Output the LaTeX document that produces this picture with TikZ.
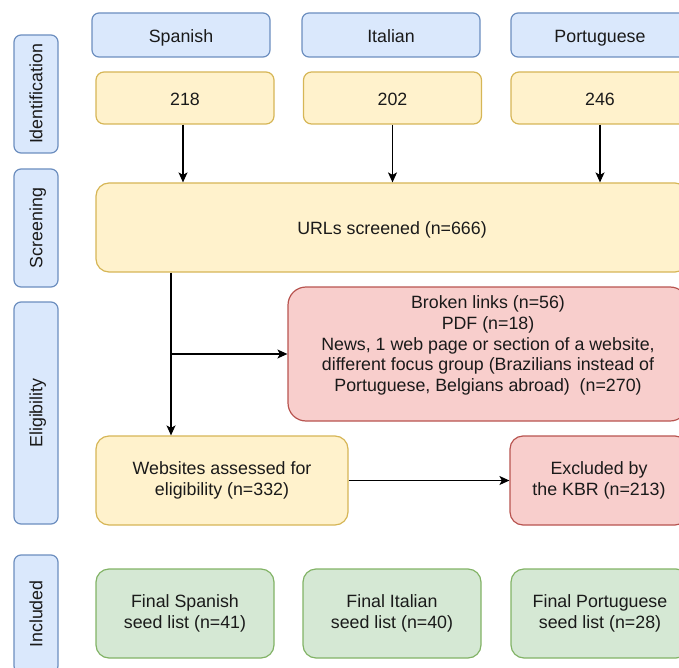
\documentclass[tikz,border=0pt]{standalone}
\usepackage{fontspec}
\setmainfont{Liberation Sans}
\usetikzlibrary{arrows.meta}
\definecolor{bluef}{HTML}{DAE8FC}\definecolor{bluel}{HTML}{6C8EBF}
\definecolor{orgf}{HTML}{FFF2CC}\definecolor{orgl}{HTML}{D6B656}
\definecolor{redf}{HTML}{F8CECC}\definecolor{redl}{HTML}{B85450}
\definecolor{grnf}{HTML}{D5E8D4}\definecolor{grnl}{HTML}{82B366}
\definecolor{txt}{HTML}{1A1A1A}
\begin{document}
\begin{tikzpicture}[x=1pt,y=-1pt,
  box/.style={rectangle, rounded corners=#1, draw, line width=1.2pt, align=center,
    inner sep=0pt, font=\fontsize{17.8}{20.8}\selectfont, text=txt},
  box/.default=7pt,
  oneline/.style={text height=16.5pt, text depth=2pt},
  phaseline/.style={text height=16pt, text depth=3.2pt},
  phase/.style={box=7pt, phaseline, fill=bluef, draw=bluel, rotate=90, minimum height=44pt},
  lang/.style={box=7pt, oneline, fill=bluef, draw=bluel, minimum width=178pt, minimum height=44pt},
  cnt/.style={box=8pt, oneline, fill=orgf, draw=orgl, minimum width=178pt, minimum height=52pt},
  orgbox/.style={box=13pt, fill=orgf, draw=orgl},
  redbox/.style={box=#1, fill=redf, draw=redl},
  redbox/.default=13pt,
  grnbox/.style={box=13pt, fill=grnf, draw=grnl, minimum width=178pt, minimum height=89pt},
  arr/.style={draw=black, line width=1.2pt, -{Stealth[length=10pt,width=9pt,inset=2.5pt]}}
]
\clip (0,0) rectangle (679,668);
\useasboundingbox (0,0) rectangle (679,668);

% phase labels
\node[phase, minimum width=118pt] (pid) at (36,94) {Identification};
\node[phase, minimum width=118pt] (psc) at (36,228) {Screening};
\node[phase, minimum width=222pt] (pel) at (36,413) {Eligibility};
\node[phase, minimum width=118pt] (pin) at (36,614) {Included};

% languages
\node[lang] (lsp) at (181,35) {Spanish};
\node[lang] (lit) at (391,35) {Italian};
\node[lang] (lpt) at (600,35) {Portuguese};

% counts
\node[cnt] (nsp) at (185,98) {218};
\node[cnt] (nit) at (392.5,98) {202};
\node[cnt] (npt) at (600,98) {246};

% screening
\node[orgbox, oneline, minimum width=592pt, minimum height=89pt] (url) at (392,227.5) {URLs screened (n=666)};

% exclusions
\node[redbox=18pt, minimum width=400pt, minimum height=134pt] (exa) at (488,354)
  {Broken links (n=56)\\PDF (n=18)\\News, 1 web page or section of a website,\\different focus group (Brazilians instead of\\Portuguese, Belgians abroad)\ \ (n=270)\\\mbox{}};

\node[orgbox, minimum width=252pt, minimum height=89pt] (web) at (222,480.5) {Websites assessed for\\eligibility (n=332)};
\node[redbox, minimum width=178pt, minimum height=89pt] (exb) at (599,480.5) {Excluded by\\the KBR (n=213)};

% included
\node[grnbox] (fsp) at (185,613.5) {Final Spanish\\seed list (n=41)};
\node[grnbox] (fit) at (392,613.5) {Final Italian\\seed list (n=40)};
\node[grnbox] (fpt) at (600,613.5) {Final Portuguese\\seed list (n=28)};

% connectors
\draw[arr] ([xshift=-2pt]nsp.south) -- ([xshift=-2pt]nsp.south |- url.north);
\draw[arr] (nit.south) -- (nit.south |- url.north);
\draw[arr] (npt.south) -- (npt.south |- url.north);

\coordinate (tap) at (171,0);
\draw[arr] (url.south -| tap) -- (web.north -| tap);
\draw[arr] (tap |- exa.west) -- (exa.west);
\draw[arr] (web.east) -- (exb.west);
\end{tikzpicture}
\end{document}
